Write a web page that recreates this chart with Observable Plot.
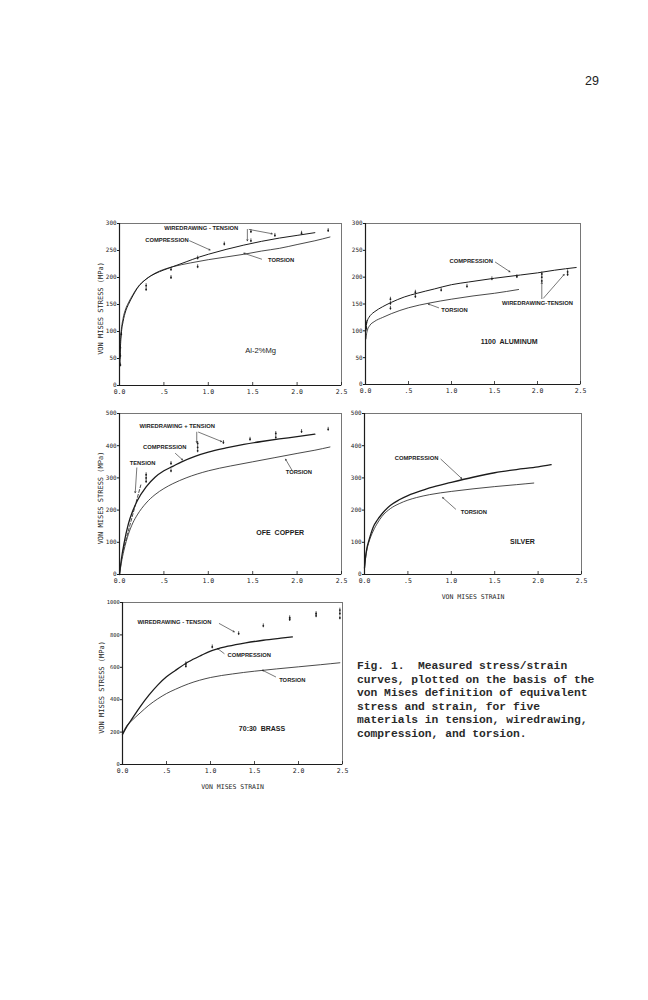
<!DOCTYPE html>
<html><head><meta charset="utf-8">
<script src="https://cdn.jsdelivr.net/npm/d3@7"></script>
<script src="https://cdn.jsdelivr.net/npm/@observablehq/plot@0.6"></script>
<style>
body{margin:0;background:#fff;}
#page{position:relative;width:648px;height:1000px;overflow:hidden;background:#fff;}
#caption{position:absolute;left:357px;top:660px;font-family:"Liberation Mono",monospace;font-weight:bold;font-size:11.3px;line-height:13.6px;color:#2a2a2a;white-space:pre;}
#folio{position:absolute;left:585px;top:74px;font-family:"Liberation Sans",Arial,sans-serif;font-size:12.5px;line-height:14px;color:#222;}
</style></head>
<body><div id="page"><div id="folio">29</div><div id="caption"></div></div>
<script>
// ---------- shared axes ----------
const xTicks = [0, 0.5, 1, 1.5, 2, 2.5];
const xTickLabels = ["0.0", ".5", "1.0", "1.5", "2.0", "2.5"];
const yTicks300 = [0, 50, 100, 150, 200, 250, 300];
const yTicks500 = [0, 100, 200, 300, 400, 500];
const yTicks1000 = [0, 200, 400, 600, 800, 1000];
const yAxisLabel = "VON MISES STRESS (MPa)";
const xAxisLabel = "VON MISES STRAIN";
const captionLines = [
  "Fig. 1.  Measured stress/strain",
  "curves, plotted on the basis of the",
  "von Mises definition of equivalent",
  "stress and strain, for five",
  "materials in tension, wiredrawing,",
  "compression, and torsion."
];

// ---------- Al-2%Mg ----------
const alMgCompression = [[0.005,40],[0.01,68],[0.02,95],[0.04,118],[0.07,138],[0.1,150],[0.15,166],[0.2,180],[0.3,197],[0.4,207],[0.5,214],[0.6,220],[0.75,229],[0.9,238],[1.0,243],[1.2,252],[1.4,260],[1.6,267],[1.8,273],[2.0,278],[2.2,283]];
const alMgTorsion = [[0.005,50],[0.01,80],[0.02,102],[0.04,124],[0.07,142],[0.1,153],[0.15,168],[0.2,181],[0.3,197],[0.4,208],[0.5,215],[0.6,220],[0.8,227],[1.0,233],[1.2,238],[1.4,243],[1.6,249],[1.8,254],[2.0,261],[2.2,268],[2.37,275]];
const alMgWiredrawing = [[0.01,38],[0.01,55],[0.01,70],[0.02,95],[0.3,185],[0.3,178],[0.58,215],[0.58,200],[0.88,236],[0.88,220],[1.18,262],[1.48,285],[1.48,268],[1.75,278],[2.05,282],[2.35,287]];
const alMgLabels = [
  {text: "WIREDRAWING - TENSION", x: 0.92, y: 291},
  {text: "COMPRESSION", x: 0.535, y: 270},
  {text: "TORSION", x: 1.82, y: 233}
];
const alMgLeaders = [
  {x1: 1.44, y1: 289, x2: 1.44, y2: 268},
  {x1: 1.46, y1: 289, x2: 1.72, y2: 281},
  {x1: 0.79, y1: 268, x2: 1.02, y2: 251},
  {x1: 1.6, y1: 234, x2: 1.4, y2: 245}
];
const alMgTitle = [{text: "Al-2%Mg", x: 1.59, y: 65}];

// ---------- 1100 Aluminum ----------
const al1100Compression = [[0.005,100],[0.01,110],[0.02,118],[0.04,125],[0.07,131],[0.1,135],[0.2,145],[0.3,153],[0.45,163],[0.6,170],[0.8,178],[1.0,186],[1.2,191],[1.5,198],[1.8,204],[2.0,208],[2.2,213],[2.45,218]];
const al1100Torsion = [[0.005,85],[0.01,92],[0.02,100],[0.05,110],[0.1,117],[0.2,125],[0.3,132],[0.5,143],[0.75,152],[1.0,159],[1.25,165],[1.5,170],[1.78,177]];
const al1100Wiredrawing = [[0.01,115],[0.01,105],[0.29,159],[0.29,151],[0.29,142],[0.58,172],[0.58,164],[0.88,176],[1.18,183],[1.47,197],[1.76,201],[2.05,206],[2.05,200],[2.05,193],[2.35,210],[2.35,205]];
const al1100Labels = [
  {text: "COMPRESSION", x: 1.23, y: 230},
  {text: "TORSION", x: 1.035, y: 138},
  {text: "WIREDRAWING-TENSION", x: 2.0, y: 151}
];
const al1100Leaders = [
  {x1: 1.51, y1: 228, x2: 1.68, y2: 210},
  {x1: 0.85, y1: 143, x2: 0.73, y2: 150},
  {x1: 2.05, y1: 160, x2: 2.05, y2: 190},
  {x1: 2.07, y1: 161, x2: 2.31, y2: 205}
];
const al1100Title = [{text: "1100  ALUMINUM", x: 1.67, y: 79}];

// ---------- OFE Copper ----------
const copperCompression = [[0,0],[0.02,45],[0.05,95],[0.1,157],[0.15,198],[0.2,229],[0.3,272],[0.4,302],[0.5,322],[0.6,336],[0.7,350],[0.85,367],[1.0,380],[1.2,393],[1.4,404],[1.6,413],[1.8,421],[2.0,428],[2.2,436]];
const copperTorsion = [[0,0],[0.02,35],[0.05,75],[0.1,125],[0.15,160],[0.2,185],[0.3,222],[0.4,248],[0.5,267],[0.6,282],[0.75,300],[1.0,322],[1.25,337],[1.5,350],[1.75,363],[2.0,376],[2.2,386],[2.37,396]];
const copperTension = [[0.04,75],[0.24,278]];
const copperWiredrawing = [[0.3,310],[0.3,300],[0.3,289],[0.58,345],[0.58,322],[0.88,407],[0.88,395],[0.88,384],[1.17,410],[1.47,420],[1.76,438],[1.76,426],[2.05,444],[2.35,451]];
const copperLabels = [
  {text: "WIREDRAWING + TENSION", x: 0.65, y: 460},
  {text: "COMPRESSION", x: 0.51, y: 394},
  {text: "TENSION", x: 0.26, y: 345},
  {text: "TORSION", x: 2.02, y: 317}
];
const copperLeaders = [
  {x1: 0.87, y1: 442, x2: 0.87, y2: 410},
  {x1: 0.89, y1: 442, x2: 1.15, y2: 413},
  {x1: 0.63, y1: 376, x2: 0.71, y2: 356},
  {x1: 0.195, y1: 331, x2: 0.177, y2: 254},
  {x1: 1.94, y1: 325, x2: 1.87, y2: 358}
];
const copperTitle = [{text: "OFE  COPPER", x: 1.81, y: 131}];

// ---------- Silver ----------
const silverCompression = [[0,20],[0.01,50],[0.03,85],[0.05,105],[0.1,147],[0.15,170],[0.2,188],[0.3,215],[0.4,232],[0.5,245],[0.6,255],[0.75,269],[1.0,286],[1.25,302],[1.5,316],[1.75,326],[2.0,334],[2.15,341]];
const silverTorsion = [[0,20],[0.01,45],[0.03,80],[0.05,100],[0.1,135],[0.15,160],[0.2,180],[0.3,205],[0.4,220],[0.5,231],[0.6,239],[0.75,248],[1.0,258],[1.25,266],[1.5,273],[1.75,279],[1.95,284]];
const silverLabels = [
  {text: "COMPRESSION", x: 0.6, y: 361},
  {text: "TORSION", x: 1.26, y: 193}
];
const silverLeaders = [
  {x1: 0.88, y1: 358, x2: 1.12, y2: 298},
  {x1: 1.05, y1: 203, x2: 0.9, y2: 239}
];
const silverTitle = [{text: "SILVER", x: 1.82, y: 103}];

// ---------- 70:30 Brass ----------
const brassCompression = [[0,185],[0.05,235],[0.1,275],[0.2,356],[0.3,428],[0.4,490],[0.5,541],[0.6,580],[0.75,634],[0.9,675],[1.0,700],[1.2,730],[1.4,751],[1.6,767],[1.8,780],[1.93,788]];
const brassTorsion = [[0,190],[0.05,240],[0.1,268],[0.2,318],[0.3,366],[0.4,405],[0.5,438],[0.6,464],[0.75,498],[1.0,537],[1.25,559],[1.5,576],[1.75,590],[2.0,603],[2.25,616],[2.47,628]];
const brassWiredrawing = [[0.72,622],[0.72,607],[1.02,726],[1.32,808],[1.6,856],[1.9,906],[1.9,895],[2.2,932],[2.2,918],[2.47,953],[2.47,932],[2.47,905]];
const brassLabels = [
  {text: "WIREDRAWING - TENSION", x: 0.59, y: 878},
  {text: "COMPRESSION", x: 1.44, y: 673},
  {text: "TORSION", x: 1.93, y: 518}
];
const brassLeaders = [
  {x1: 1.1, y1: 870, x2: 1.27, y2: 819},
  {x1: 1.155, y1: 685, x2: 1.08, y2: 716},
  {x1: 1.74, y1: 541, x2: 1.59, y2: 582}
];
const brassTitle = [{text: "70:30  BRASS", x: 1.585, y: 220}];

// ---------- drawing ----------
const ink = "#1c1c1c";
const mono = "'DejaVu Sans Mono', 'Liberation Mono', monospace";
const sans = "'Liberation Sans', Arial, sans-serif";
const page = document.getElementById("page");
document.getElementById("caption").textContent = captionLines.join("\n");

function makePanel(p) {
  const mT = 8, mR = 5, mB = 30;
  const ymax = p.yTicks[p.yTicks.length - 1];
  const err = ymax * 0.012;
  const marks = [
    Plot.frame({stroke: ink, strokeWidth: 0.6}),
    Plot.ruleX([0], {stroke: ink, strokeWidth: 1.2}),
    Plot.ruleY([0], {stroke: ink, strokeWidth: 1.2}),
    Plot.tickX(xTicks, {x: d => d, insetTop: p.fh - 3, stroke: ink, strokeWidth: 0.8}),
    Plot.axisX({ticks: xTicks, tickFormat: d => xTickLabels[xTicks.indexOf(d)], tickSize: 0, tickPadding: 4, fontSize: 6.5, fontFamily: mono, label: null, color: ink}),
    Plot.axisY({ticks: p.yTicks, tickFormat: d => String(d), tickSize: 2, tickPadding: 0.8, fontSize: p.yTickSize || 6, fontFamily: mono, label: null, color: ink})
  ];
  if (p.dashed) marks.push(Plot.line(p.dashed, {x: d => d[0], y: d => d[1], stroke: ink, strokeWidth: 0.8, strokeDasharray: "3,2"}));
  marks.push(Plot.line(p.torsion, {x: d => d[0], y: d => d[1], curve: "monotone-x", stroke: ink, strokeWidth: 0.8}));
  marks.push(Plot.line(p.compression, {x: d => d[0], y: d => d[1], curve: "monotone-x", stroke: ink, strokeWidth: p.thick ? 1.3 : 1.0}));
  if (p.points) {
    marks.push(Plot.ruleX(p.points, {x: d => d[0], y1: d => d[1] - err, y2: d => d[1] + err, stroke: ink, strokeWidth: 0.7}));
    marks.push(Plot.dot(p.points, {x: d => d[0], y: d => d[1], r: 0.9, fill: ink, stroke: null}));
  }
  marks.push(Plot.arrow(p.leaders, {x1: "x1", y1: "y1", x2: "x2", y2: "y2", headLength: 3, strokeWidth: 0.6, stroke: ink}));
  marks.push(Plot.text(p.labels, {x: "x", y: "y", text: "text", fontSize: 5.8, fontWeight: "bold", fontFamily: sans, fill: ink}));
  marks.push(Plot.text(p.title, {x: "x", y: "y", text: "text", fontSize: p.titleSize || 7, fontWeight: p.titleWeight || 600, fontFamily: sans, fill: ink}));
  if (p.yLabel) marks.push(Plot.text([yAxisLabel], {text: d => d, frameAnchor: "left", textAnchor: "middle", lineAnchor: "middle", rotate: -90, dx: p.yLabelDx, dy: 4, fontSize: 7, fontFamily: mono, fill: ink}));
  if (p.xLabel) marks.push(Plot.text([xAxisLabel], {text: d => d, frameAnchor: "bottom", dy: 24, fontSize: 6.5, fontFamily: mono, fill: ink}));
  const chart = Plot.plot({
    width: p.mL + p.fw + mR,
    height: mT + p.fh + mB,
    marginLeft: p.mL, marginRight: mR, marginTop: mT, marginBottom: mB,
    x: {domain: [0, 2.5]},
    y: {domain: [0, ymax]},
    style: {background: "transparent", overflow: "visible", color: ink},
    marks
  });
  chart.style.position = "absolute";
  chart.style.left = (p.left - p.mL) + "px";
  chart.style.top = (p.top - mT) + "px";
  chart.style.maxWidth = "none";
  page.appendChild(chart);
}

makePanel({left: 119, top: 223, fw: 222, fh: 162, mL: 40, yTicks: yTicks300, compression: alMgCompression, torsion: alMgTorsion, points: alMgWiredrawing, labels: alMgLabels, leaders: alMgLeaders, title: alMgTitle, titleWeight: 400, titleSize: 7.6, yLabel: true, yLabelDx: -19});
makePanel({left: 365, top: 223, fw: 215, fh: 161, mL: 22, yTicks: yTicks300, compression: al1100Compression, torsion: al1100Torsion, points: al1100Wiredrawing, labels: al1100Labels, leaders: al1100Leaders, title: al1100Title});
makePanel({left: 119, top: 413, fw: 222, fh: 161, mL: 40, yTicks: yTicks500, compression: copperCompression, torsion: copperTorsion, dashed: copperTension, points: copperWiredrawing, labels: copperLabels, leaders: copperLeaders, title: copperTitle, thick: true, yLabel: true, yLabelDx: -19});
makePanel({left: 364, top: 413, fw: 217, fh: 161, mL: 22, yTicks: yTicks500, compression: silverCompression, torsion: silverTorsion, labels: silverLabels, leaders: silverLeaders, title: silverTitle, thick: true, xLabel: true});
makePanel({left: 122, top: 602, fw: 220, fh: 162, mL: 40, yTicks: yTicks1000, yTickSize: 5.4, compression: brassCompression, torsion: brassTorsion, points: brassWiredrawing, labels: brassLabels, leaders: brassLeaders, title: brassTitle, thick: true, yLabel: true, yLabelDx: -21, xLabel: true});
</script>
</body></html>
